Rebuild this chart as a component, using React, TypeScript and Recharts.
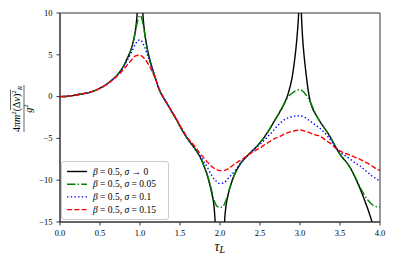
import { LineChart, Line, XAxis, YAxis, ReferenceArea, Legend } from "recharts"

// shared tau grid (step 0.05) for the two smoothest curves
const tauGrid = [
  0, 0.05, 0.1, 0.15, 0.2, 0.25, 0.3, 0.35, 0.4, 0.45,
  0.5, 0.55, 0.6, 0.65, 0.7, 0.75, 0.8, 0.85, 0.9, 0.95,
  1.0, 1.05, 1.1, 1.15, 1.2, 1.25, 1.3, 1.35, 1.4, 1.45,
  1.5, 1.55, 1.6, 1.65, 1.7, 1.75, 1.8, 1.85, 1.9, 1.95,
  2.0, 2.05, 2.1, 2.15, 2.2, 2.25, 2.3, 2.35, 2.4, 2.45,
  2.5, 2.55, 2.6, 2.65, 2.7, 2.75, 2.8, 2.85, 2.9, 2.95,
  3.0, 3.05, 3.1, 3.15, 3.2, 3.25, 3.3, 3.35, 3.4, 3.45,
  3.5, 3.55, 3.6, 3.65, 3.7, 3.75, 3.8, 3.85, 3.9, 3.95,
  4.0,
]

// sigma -> 0 (diverges at integer tau, so extra points near the spikes)
const tauSharp = [
  0, 0.05, 0.1, 0.15, 0.2, 0.25, 0.3, 0.35, 0.4, 0.45, 0.5, 0.55, 0.6, 0.65, 0.7, 0.75, 0.8, 0.85, 0.9,
  0.925, 0.95, 0.965, 0.98, 0.99,
  1.01, 1.02, 1.035, 1.05, 1.075, 1.1,
  1.15, 1.2, 1.25, 1.3, 1.35, 1.4, 1.45, 1.5, 1.55, 1.6, 1.65, 1.7, 1.75, 1.8, 1.85, 1.9,
  1.925, 1.94, 1.95,
  2.05, 2.06, 2.075, 2.1,
  2.15, 2.2, 2.25, 2.3, 2.35, 2.4, 2.45, 2.5, 2.55, 2.6, 2.65, 2.7, 2.75, 2.8, 2.85, 2.9,
  2.925, 2.95, 2.97, 2.983, 2.992,
  3.008, 3.017, 3.03, 3.05, 3.075, 3.1, 3.125,
  3.15, 3.2, 3.25, 3.3, 3.35, 3.4, 3.45, 3.5, 3.55, 3.6, 3.65, 3.7, 3.75, 3.8, 3.85, 3.9,
  3.925,
]
const sharpVals = [
  0, 0.01, 0.05, 0.11, 0.19, 0.28, 0.37, 0.45, 0.6, 0.78, 1.0, 1.27, 1.6, 1.98, 2.42, 2.98, 3.75, 4.75, 6.0,
  7.0, 8.4, 10.0, 12.4, 15,
  15, 12.6, 10.0, 8.3, 6.6, 5.3,
  3.5, 1.95, 0.6, -0.25, -1.05, -1.85, -2.65, -3.55, -4.4, -5.1, -5.75, -6.4, -7.2, -8.3, -9.7, -11.7,
  -13.1, -15, -16.5,
  -16.5, -14.5, -13.1, -11.8,
  -10.1, -8.95, -8.1, -7.5, -7.0, -6.55, -6.05, -5.5, -4.9, -4.2, -3.4, -2.6, -1.8, -0.9, 0.3, 2.2,
  3.8, 5.8, 8.0, 10, 13,
  13, 10, 7.4, 5.0, 2.8, 0.9, -0.45,
  -1.25, -2.2, -3.0, -3.7, -4.4, -5.2, -6.1, -6.9, -7.5, -8.1, -8.9, -9.9, -11.0, -12.2, -13.5, -15,
  -16,
]

// sigma = 0.05
const tauS005 = [
  0, 0.05, 0.1, 0.15, 0.2, 0.25, 0.3, 0.35, 0.4, 0.45, 0.5, 0.55, 0.6, 0.65, 0.7, 0.75, 0.8, 0.85, 0.9,
  0.925, 0.95, 0.975, 1.0, 1.025, 1.05, 1.075, 1.1,
  1.15, 1.2, 1.25, 1.3, 1.35, 1.4, 1.45, 1.5, 1.55, 1.6, 1.65, 1.7, 1.75, 1.8,
  1.85, 1.9, 1.925, 1.95, 1.975, 2.0, 2.025, 2.05, 2.075, 2.1, 2.15,
  2.2, 2.25, 2.3, 2.35, 2.4, 2.45, 2.5, 2.55, 2.6, 2.65, 2.7, 2.75, 2.8, 2.85, 2.9, 2.95,
  3.0, 3.05, 3.1, 3.15, 3.2, 3.25, 3.3, 3.35, 3.4, 3.45, 3.5, 3.55, 3.6, 3.65, 3.7, 3.75,
  3.8, 3.85, 3.9, 3.95, 4.0,
]
const s005Vals = [
  0, 0.01, 0.05, 0.11, 0.19, 0.28, 0.37, 0.45, 0.6, 0.78, 1.0, 1.27, 1.6, 1.98, 2.42, 2.98, 3.75, 4.75, 5.95,
  6.9, 8.1, 9.25, 9.7, 9.25, 8.0, 6.5, 5.25,
  3.5, 1.95, 0.6, -0.25, -1.05, -1.85, -2.65, -3.55, -4.4, -5.1, -5.75, -6.4, -7.2, -8.3,
  -9.6, -11.4, -12.4, -12.95, -13.2, -13.25, -13.2, -12.95, -12.4, -11.6, -10.1,
  -8.95, -8.1, -7.5, -7.0, -6.55, -6.05, -5.5, -4.9, -4.2, -3.4, -2.6, -1.75, -0.9, -0.05, 0.4, 0.72,
  0.83, 0.5, -0.15, -1.1, -2.15, -3.0, -3.7, -4.4, -5.2, -6.1, -6.9, -7.5, -8.1, -8.85, -9.8, -10.8,
  -11.7, -12.4, -12.9, -13.15, -13.2,
]

// sigma = 0.1 (on tauGrid)
const s01Vals = [
  0, 0.01, 0.05, 0.11, 0.19, 0.28, 0.37, 0.45, 0.6, 0.78,
  1.0, 1.27, 1.6, 1.97, 2.4, 2.95, 3.65, 4.5, 5.45, 6.4,
  6.8, 6.1, 4.8, 3.4, 1.95, 0.65, -0.2, -1.0, -1.8, -2.6,
  -3.5, -4.3, -5.1, -5.8, -6.5, -7.1, -7.8, -8.6, -9.5, -10.1,
  -10.4, -10.3, -9.8, -9.3, -8.7, -8.1, -7.5, -7.0, -6.5, -6.1,
  -5.7, -5.25, -4.75, -4.25, -3.7, -3.2, -2.8, -2.55, -2.4, -2.3,
  -2.3, -2.45, -2.75, -3.1, -3.45, -3.8, -4.25, -4.8, -5.45, -6.15,
  -6.65, -7.0, -7.3, -7.65, -8.0, -8.3, -8.7, -9.1, -9.5, -9.8,
  -10.1,
]

// sigma = 0.15 (on tauGrid)
const s015Vals = [
  0, 0.01, 0.05, 0.11, 0.19, 0.28, 0.37, 0.45, 0.6, 0.78,
  1.0, 1.26, 1.57, 1.93, 2.33, 2.8, 3.3, 3.9, 4.45, 4.9,
  4.95, 4.6, 3.95, 3.05, 1.95, 0.7, -0.2, -1.0, -1.8, -2.6,
  -3.45, -4.25, -5.0, -5.55, -6.15, -6.8, -7.35, -7.9, -8.4, -8.7,
  -8.85, -8.85, -8.65, -8.3, -7.95, -7.65, -7.35, -7.0, -6.7, -6.4,
  -6.15, -5.8, -5.5, -5.2, -4.95, -4.75, -4.5, -4.3, -4.15, -4.05,
  -4.0, -4.1, -4.25, -4.45, -4.6, -4.75, -5.05, -5.4, -5.75, -6.2,
  -6.5, -6.75, -6.9, -7.1, -7.3, -7.5, -7.75, -8.0, -8.3, -8.6,
  -8.86,
]

const xTicks = [0, 0.5, 1, 1.5, 2, 2.5, 3, 3.5, 4]
const yTicks = [-15, -10, -5, 0, 5, 10]
const legendLabels = ["σ → 0", "σ = 0.05", "σ = 0.1", "σ = 0.15"]

const zip = (ts: number[], vs: number[]) =>
  ts.slice(0, Math.min(ts.length, vs.length)).map((t, i) => ({ t, v: vs[i] }))

const series = [
  { key: "s0", data: zip(tauSharp, sharpVals), color: "#000000", dash: undefined },
  { key: "s005", data: zip(tauS005, s005Vals), color: "#008000", dash: "8.5 2.2 1.4 2.2" },
  { key: "s01", data: zip(tauGrid, s01Vals), color: "#0000ff", dash: "1.4 2.3" },
  { key: "s015", data: zip(tauGrid, s015Vals), color: "#ff0000", dash: "5.1 2.2" },
]

const serif = "'Liberation Serif', 'DejaVu Serif', serif"
const axisColor = "#333"

function XTick({ x, y, payload }: any) {
  return (
    <text x={x} y={y} dy="0.71em" textAnchor="middle" fontSize={8.5} fontFamily={serif} fill="#000">
      {Number(payload.value).toFixed(1)}
    </text>
  )
}

function YTick({ x, y, payload }: any) {
  const v = Number(payload.value)
  return (
    <text x={x} y={y} dy="0.34em" textAnchor="end" fontSize={8.5} fontFamily={serif} fill="#000">
      {v < 0 ? "\u2212" + Math.abs(v) : String(v)}
    </text>
  )
}

function LegendBox() {
  return (
    <svg width={109} height={60} style={{ display: "block" }}>
      <rect x={0.5} y={0.5} width={107} height={58} rx={2.5} fill="#fff" fillOpacity={0.8} stroke="#cccccc" />
      {series.map((s, i) => {
        const cy = 10.5 + i * 12.7
        return (
          <g key={s.key}>
            <line x1={6} x2={26} y1={cy} y2={cy} stroke={s.color} strokeWidth={1.4} strokeDasharray={s.dash} />
            <text x={32} y={cy + 3.2} fontSize={9.5} fontFamily={serif} fill="#000">
              <tspan fontStyle="italic">β</tspan>
              {" = 0.5, "}
              <tspan fontStyle="italic">σ</tspan>
              {legendLabels[i].slice(1)}
            </text>
          </g>
        )
      })}
    </svg>
  )
}

export default function App() {
  return (
    <div style={{ position: "absolute", left: 0, top: 0, width: 396, height: 264, background: "#fff" }}>
      <LineChart width={396} height={264} margin={{ top: 13, right: 16, bottom: 0, left: 0 }}>
        <XAxis
          type="number"
          dataKey="t"
          domain={[0, 4]}
          ticks={xTicks}
          allowDataOverflow
          height={42}
          tickSize={3.5}
          tickMargin={4}
          tick={<XTick />}
          stroke={axisColor}
        />
        <YAxis
          type="number"
          domain={[-15, 10]}
          ticks={yTicks}
          allowDataOverflow
          width={60}
          tickSize={3.5}
          tickMargin={4}
          tick={<YTick />}
          stroke={axisColor}
        />
        <ReferenceArea x1={0} x2={4} y1={-15} y2={10} fill="none" stroke={axisColor} strokeWidth={1} />
        {series.map((s) => (
          <Line
            key={s.key}
            data={s.data}
            dataKey="v"
            type="monotone"
            stroke={s.color}
            strokeWidth={1.4}
            strokeDasharray={s.dash}
            dot={false}
            activeDot={false}
            isAnimationActive={false}
          />
        ))}
        <Legend
          layout="vertical"
          align="center"
          verticalAlign="middle"
          content={() => <LegendBox />}
          wrapperStyle={{ left: 61, top: 161, width: 109, height: 60 }}
        />
      </LineChart>
      {/* axis titles */}
      <svg width={396} height={264} style={{ position: "absolute", left: 0, top: 0, pointerEvents: "none" }}>
        <text x={214.5} y={250.5} fontFamily={serif} fill="#000">
          <tspan fontSize={14} fontStyle="italic">τ</tspan>
          <tspan fontSize={10} fontStyle="italic" dy={2.6}>L</tspan>
        </text>
        <g transform="translate(24,108.5) rotate(-90)" fontFamily={serif} fill="#000">
          <text x={-23.5} y={-4.5} fontSize={10}>
            4<tspan fontStyle="italic">πm</tspan>
            <tspan fontSize={7} dy={-4}>2</tspan>
            <tspan dy={4}>(Δ</tspan>
            <tspan fontStyle="italic">v</tspan>)
            <tspan fontSize={7} dy={-4}>2</tspan>
            <tspan fontSize={7} fontStyle="italic" dy={6}>R</tspan>
          </text>
          <line x1={-1.5} x2={19} y1={-13.5} y2={-13.5} stroke="#000" strokeWidth={0.6} />
          <line x1={-23.5} x2={23.5} y1={0} y2={0} stroke="#000" strokeWidth={0.6} />
          <text x={0} y={8} fontSize={10} textAnchor="middle">
            <tspan fontStyle="italic">g</tspan>
            <tspan fontSize={7} dy={-4}>2</tspan>
          </text>
        </g>
      </svg>
    </div>
  )
}
